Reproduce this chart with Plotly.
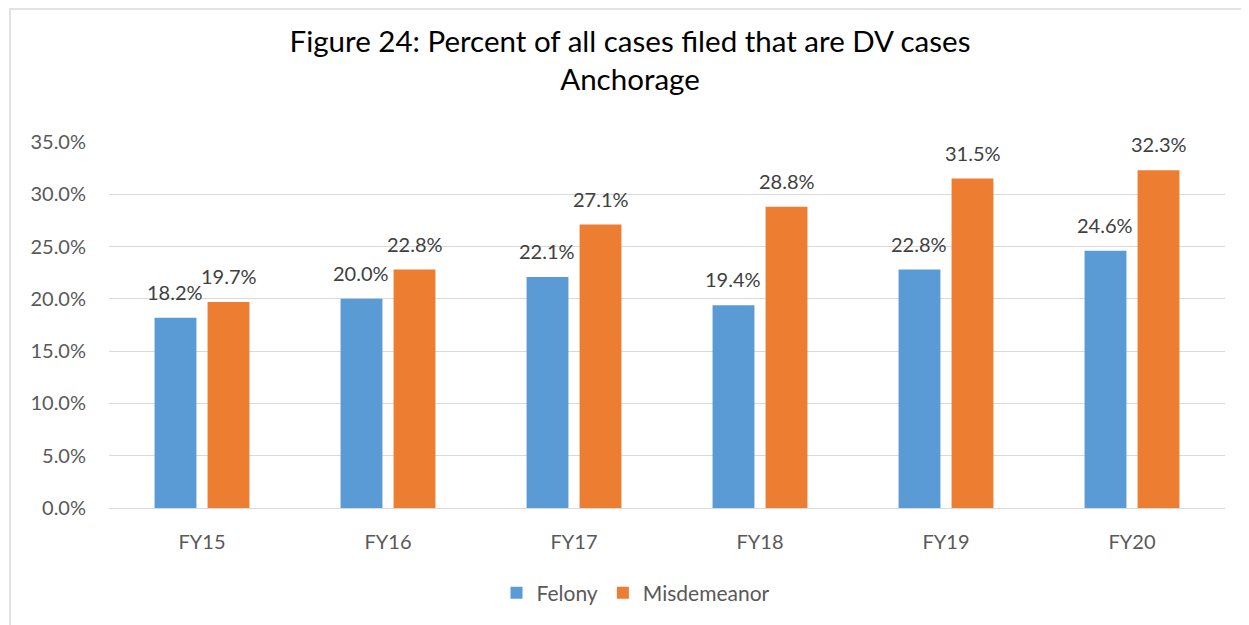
import plotly.graph_objects as go

categories = ["FY15", "FY16", "FY17", "FY18", "FY19", "FY20"]
felony = [18.2, 20.0, 22.1, 19.4, 22.8, 24.6]
misdemeanor = [19.7, 22.8, 27.1, 28.8, 31.5, 32.3]
y_ticks = [0, 5, 10, 15, 20, 25, 30, 35]
y_tick_labels = [f"{v:.1f}%" for v in y_ticks]

# page has an 8px body margin; work in reference pixels and shift
OFF = 8
W, H = 1249 - OFF, 625 - OFF
PL, PR, PT, PB = 109, 1225, 142, 508  # plot area in reference pixels
L, R, T, B = PL - OFF, (W + OFF) - PR, PT - OFF, (H + OFF) - PB
pw, ph = PR - PL, PB - PT

def px_x(x):
    return (x - PL) / pw

def px_y(y):
    return (PB - y) / ph

FONT = "Lato"
BARGAP, GROUPGAP = 0.43, 0.21
cat_w = pw / len(categories)
slot = (1 - BARGAP) * cat_w / 2
shift = slot / 2

fig = go.Figure()
fig.add_trace(go.Bar(
    name="Felony", x=categories, y=felony,
    marker=dict(color="#5B9BD5", line=dict(width=0)),
))
fig.add_trace(go.Bar(
    name="Misdemeanor", x=categories, y=misdemeanor,
    marker=dict(color="#ED7D31", line=dict(width=0)),
))

annotations = []
for series, sgn in ((felony, -1), (misdemeanor, 1)):
    for c, v in zip(categories, series):
        annotations.append(dict(
            x=c, y=v, xref="x", yref="y", text=f"{v:.1f}%",
            showarrow=False, xanchor="center", yanchor="bottom",
            xshift=sgn * shift, yshift=12,
            font=dict(size=20, color="#404040", family=FONT),
        ))

fig.update_layout(
    width=W, height=H,
    margin=dict(l=L, r=R, t=T, b=B, autoexpand=False),
    paper_bgcolor="white", plot_bgcolor="white",
    barmode="group", bargap=BARGAP, bargroupgap=GROUPGAP,
    font=dict(family=FONT, color="#595959", size=20),
    title=dict(
        text="Figure 24: Percent of all cases filed that are DV cases<br>Anchorage",
        x=(630 - OFF) / W, xref="container", xanchor="center",
        y=1 - 44 / H, yref="container", yanchor="top",
        font=dict(size=29.5, color="#000000", family=FONT),
    ),
    showlegend=True,
    legend=dict(
        orientation="h", x=px_x(636), xanchor="center",
        y=px_y(593), yanchor="middle",
        font=dict(size=21, color="#595959", family=FONT),
        itemwidth=30, traceorder="normal",
    ),
    xaxis=dict(
        showgrid=False, showline=False, ticks="",
        tickfont=dict(size=20, color="#595959"),
        ticklabelstandoff=20,
    ),
    yaxis=dict(
        range=[0, 35], tickvals=y_ticks, ticktext=y_tick_labels,
        showgrid=True, gridcolor="#D9D9D9", gridwidth=1,
        zeroline=True, zerolinecolor="#D9D9D9", zerolinewidth=1,
        showline=False, ticks="",
        tickfont=dict(size=20, color="#595959"),
        ticklabelstandoff=22,
    ),
    annotations=annotations,
    shapes=[
        dict(type="rect", xref="paper", yref="paper",
             x0=px_x(10), x1=px_x(1249 + 20), y0=px_y(625 + 20), y1=px_y(9),
             line=dict(color="#D9D9D9", width=1.5), fillcolor="rgba(0,0,0,0)", layer="below"),
        dict(type="rect", xref="paper", yref="paper",
             x0=px_x(150), x1=px_x(1110), y0=px_y(5), y1=px_y(-20),
             line=dict(color="#D9D9D9", width=1.5), fillcolor="rgba(0,0,0,0)", layer="below"),
    ],
)

fig.write_html("out.html")
